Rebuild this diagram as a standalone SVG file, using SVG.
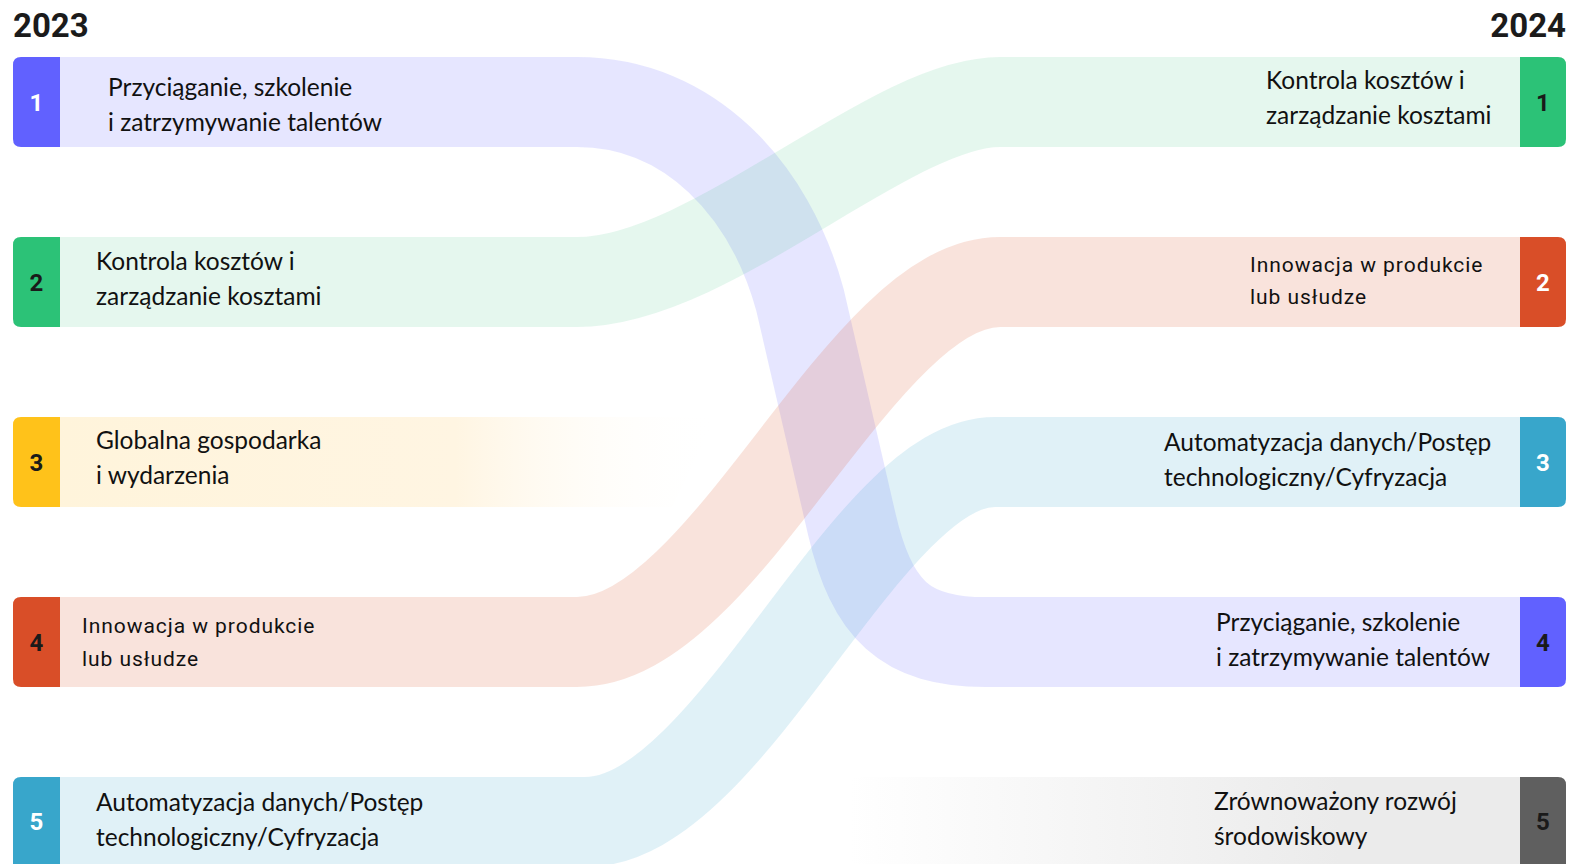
<svg xmlns="http://www.w3.org/2000/svg" width="1573" height="864" viewBox="0 0 1573 864">
<defs>
<style>
.band{fill:none;stroke-width:90;stroke-linecap:butt}
.t{font-family:Lato,"Liberation Sans",sans-serif;font-size:24.5px;fill:#111}
.d{font-family:Roboto,"Liberation Sans",sans-serif;font-size:21px;letter-spacing:0.95px;fill:#111}
.n{font-family:Roboto,"Liberation Sans",sans-serif;font-size:24px;font-weight:bold;text-anchor:middle}
.yr{font-family:Roboto,"Liberation Sans",sans-serif;font-size:33px;font-weight:bold;fill:#1b1b1b}
.w{fill:#ffffff}
.k{fill:#1a1a1a}
</style>
<linearGradient id="gY" gradientUnits="userSpaceOnUse" x1="60" y1="0" x2="720" y2="0">
<stop offset="0" stop-color="#FFF4DB"/>
<stop offset="0.6" stop-color="#FFF5E2"/>
<stop offset="1" stop-color="#FFFFFF" stop-opacity="0"/>
</linearGradient>
<linearGradient id="gG" gradientUnits="userSpaceOnUse" x1="850" y1="0" x2="1340" y2="0">
<stop offset="0" stop-color="#EBEBEB" stop-opacity="0"/>
<stop offset="1" stop-color="#EBEBEB"/>
</linearGradient>
</defs>
<rect width="1573" height="864" fill="#ffffff"/>

<g id="connectors">
<path id="band-yellow" d="M60,417 H717 L672,507 H60 Z" fill="url(#gY)"/>
<path id="band-gray" d="M842,777 H1520 V868 H826 Z" fill="url(#gG)"/>
<path id="band-purple" class="band" stroke="#6161FF" stroke-opacity="0.16" d="M60,102 H577 C690,102 770,190 800,300 L852,525 C872,610 905,642 985,642 H1520"/>
<path id="band-green" class="band" stroke="#2CC277" stroke-opacity="0.125" d="M60,282 H577 C710,282 890,102 1000,102 H1520"/>
<path id="band-orange" class="band" stroke="#D94E28" stroke-opacity="0.16" d="M60,642 H577 C725,642 860,282 1000,282 H1520"/>
<path id="band-blue" class="band" stroke="#38A6CB" stroke-opacity="0.155" d="M60,822 H585 C730,822 865,462 995,462 H1520"/>
</g>

<g id="title-2023"><text class="yr" x="13" y="37">2023</text></g>
<g id="title-2024"><text class="yr" x="1566" y="37" text-anchor="end">2024</text></g>

<g id="left-1">
<path d="M60,57 V147 H21 Q13,147 13,139 V65 Q13,57 21,57 Z" fill="#6161FF"/>
<text class="n w" x="36.5" y="111">1</text>
<text class="t" x="108" y="96">Przyciąganie, szkolenie</text>
<text class="t" x="108" y="131">i zatrzymywanie talentów</text>
</g>
<g id="left-2">
<path d="M60,237 V327 H21 Q13,327 13,319 V245 Q13,237 21,237 Z" fill="#2CC277"/>
<text class="n k" x="36.5" y="291">2</text>
<text class="t" x="96" y="270">Kontrola kosztów i</text>
<text class="t" x="96" y="305">zarządzanie kosztami</text>
</g>
<g id="left-3">
<path d="M60,417 V507 H21 Q13,507 13,499 V425 Q13,417 21,417 Z" fill="#FFC21A"/>
<text class="n k" x="36.5" y="471">3</text>
<text class="t" x="96" y="449">Globalna gospodarka</text>
<text class="t" x="96" y="484">i wydarzenia</text>
</g>
<g id="left-4">
<path d="M60,597 V687 H21 Q13,687 13,679 V605 Q13,597 21,597 Z" fill="#D94E28"/>
<text class="n k" x="36.5" y="651">4</text>
<text class="d" x="82" y="633">Innowacja w produkcie</text>
<text class="d" x="82" y="666">lub usłudze</text>
</g>
<g id="left-5">
<path d="M60,777 V868 H13 V785 Q13,777 21,777 Z" fill="#38A6CB"/>
<text class="n w" x="36.5" y="830">5</text>
<text class="t" x="96" y="811">Automatyzacja danych/Postęp</text>
<text class="t" x="96" y="846">technologiczny/Cyfryzacja</text>
</g>

<g id="right-1">
<path d="M1520,57 H1558 Q1566,57 1566,65 V139 Q1566,147 1558,147 H1520 Z" fill="#2CC277"/>
<text class="n k" x="1543" y="111">1</text>
<text class="t" x="1266" y="89">Kontrola kosztów i</text>
<text class="t" x="1266" y="124">zarządzanie kosztami</text>
</g>
<g id="right-2">
<path d="M1520,237 H1558 Q1566,237 1566,245 V319 Q1566,327 1558,327 H1520 Z" fill="#D94E28"/>
<text class="n w" x="1543" y="291">2</text>
<text class="d" x="1250" y="272">Innowacja w produkcie</text>
<text class="d" x="1250" y="304">lub usłudze</text>
</g>
<g id="right-3">
<path d="M1520,417 H1558 Q1566,417 1566,425 V499 Q1566,507 1558,507 H1520 Z" fill="#38A6CB"/>
<text class="n w" x="1543" y="471">3</text>
<text class="t" x="1164" y="451">Automatyzacja danych/Postęp</text>
<text class="t" x="1164" y="486">technologiczny/Cyfryzacja</text>
</g>
<g id="right-4">
<path d="M1520,597 H1558 Q1566,597 1566,605 V679 Q1566,687 1558,687 H1520 Z" fill="#6161FF"/>
<text class="n k" x="1543" y="651">4</text>
<text class="t" x="1216" y="631">Przyciąganie, szkolenie</text>
<text class="t" x="1216" y="666">i zatrzymywanie talentów</text>
</g>
<g id="right-5">
<path d="M1520,777 H1558 Q1566,777 1566,785 V868 H1520 Z" fill="#5F5F5F"/>
<text class="n k" x="1543" y="830">5</text>
<text class="t" x="1214" y="810">Zrównoważony rozwój</text>
<text class="t" x="1214" y="845">środowiskowy</text>
</g>
</svg>
